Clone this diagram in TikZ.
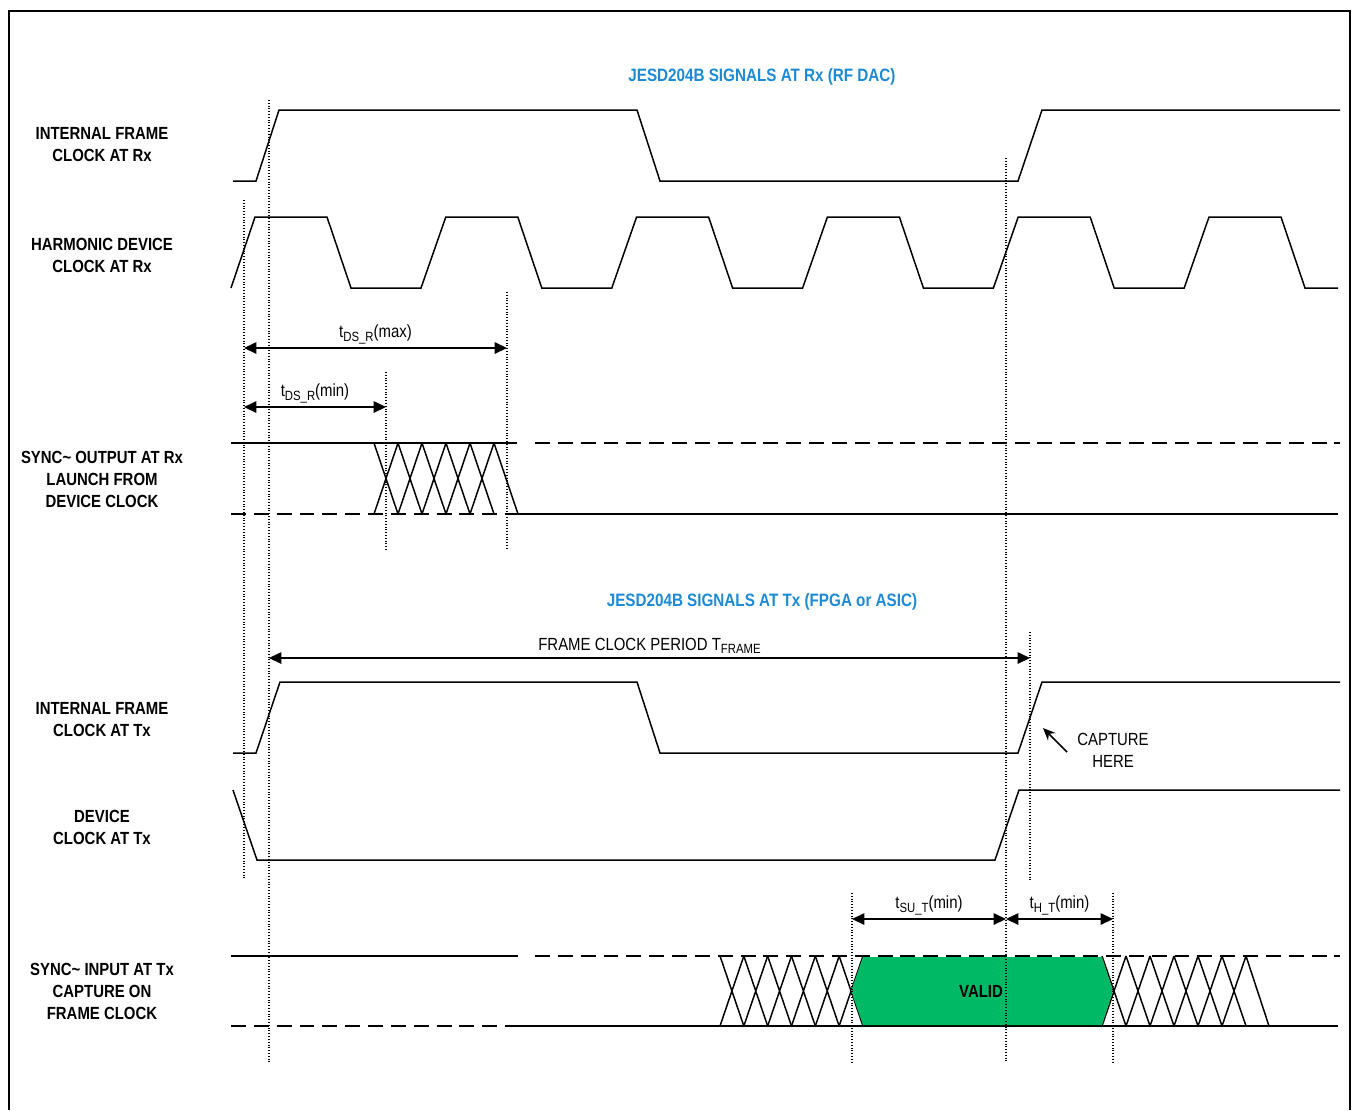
\documentclass[tikz,border=0pt]{standalone}
\usepackage{fontspec}
\setmainfont{Liberation Sans}[FakeStretch=0.85]
\usetikzlibrary{arrows.meta,positioning}
\definecolor{jesdblue}{RGB}{28,138,212}
\definecolor{validgreen}{RGB}{0,185,100}
\newcommand{\lowsub}[1]{\raisebox{-0.4ex}{\fontsize{7.6}{8}\selectfont #1}}

\tikzset{
  sig/.style={line width=0.85pt, line join=miter},
  dashsig/.style={sig, dash pattern=on 8.5pt off 4.5pt},
  guide/.style={line width=0.6pt, dash pattern=on 0.5pt off 1.1pt, black},
  dim/.style={line width=0.75pt, {Triangle[length=7pt,width=6.5pt]}-{Triangle[length=7pt,width=6.5pt]}},
  sigtitle/.style={font=\bfseries\fontsize{10}{12.5}\selectfont, align=center},
  heading/.style={font=\bfseries\fontsize{10.2}{12}\selectfont, text=jesdblue},
  dimlabel/.style={font=\fontsize{10}{12.5}\selectfont, align=center, inner sep=2pt}
}

\begin{document}
\begin{tikzpicture}[x=0.02cm,y=-0.02cm]
  \useasboundingbox (0,0) rectangle (1353,1110);
  \draw[line width=1.4pt] (9,1110) -- (9,11) -- (1350,11) -- (1350,1110);

  % headings
  \node[heading] (rxhead) at (762,77) {JESD204B SIGNALS AT Rx (RF DAC)};
  \node[heading] (txhead) at (762,602) {JESD204B SIGNALS AT Tx (FPGA or ASIC)};

  % signal names
  \node[sigtitle] (frx) at (102,145) {INTERNAL FRAME\\CLOCK AT Rx};
  \node[sigtitle] (hrx) at (102,255) {HARMONIC DEVICE\\CLOCK AT Rx};
  \node[sigtitle] (srx) at (102,479) {SYNC\textasciitilde{} OUTPUT AT Rx\\LAUNCH FROM\\DEVICE CLOCK};
  \node[sigtitle] (ftx) at (102,720) {INTERNAL FRAME\\CLOCK AT Tx};
  \node[sigtitle] (dtx) at (102,827) {DEVICE\\CLOCK AT Tx};
  \node[sigtitle] (stx) at (102,991) {SYNC\textasciitilde{} INPUT AT Tx\\CAPTURE ON\\FRAME CLOCK};

  % internal frame clock at Rx
  \draw[sig] (233,181) -- (256,181) -- (279,110) -- (637,110) -- (660,181)
    -- (1018,181) -- (1042,110) -- (1340,110);

  % harmonic device clock at Rx
  \draw[sig] (231,288) \foreach \k in {0,...,4} {
      -- ({255+190.8*\k},217) -- ({327+190.8*\k},217)
      -- ({351+190.8*\k},288) -- ({421+190.8*\k},288) }
    -- (1209,217) -- (1281,217) -- (1305,288) -- (1338,288);

  % SYNC~ output at Rx
  \draw[sig] (231,443) -- (517,443);
  \draw[dashsig] (231,514) -- (518,514);
  \draw[sig] (518,514) -- (1338,514);
  \draw[dashsig] (535,443) -- (1340,443);
  \foreach \x in {374,398,...,470}
    \draw[sig] (\x,443) -- (\x+24,514) (\x,514) -- (\x+24,443);
  \draw[sig] (494,443) -- (518,514);

  % internal frame clock at Tx
  \draw[sig] (233,753) -- (256,753) -- (280,682) -- (637,682) -- (660,753)
    -- (1018,753) -- (1042,682) -- (1340,682);

  % device clock at Tx
  \draw[sig] (233,790) -- (257,860) -- (995,860) -- (1019,790) -- (1340,790);

  % SYNC~ input at Tx
  \draw[sig] (231,956) -- (518,956);
  \draw[dashsig] (231,1026) -- (518,1026);
  \draw[sig] (518,1026) -- (1338,1026);
  \draw[dashsig] (535,956) -- (1340,956);
  \foreach \i in {0,...,5}
    \draw[sig] ({720+23.83*\i},956) -- ({743.83+23.83*\i},1026)
               ({720+23.83*\i},1026) -- ({743.83+23.83*\i},956);
  \foreach \x in {1102,1126,...,1222}
    \draw[sig] (\x,956) -- (\x+24,1026) (\x,1026) -- (\x+24,956);
  \draw[sig] (1246,956) -- (1269,1026);
  \fill[validgreen] (863,957) -- (1102,957) -- (1113,991) -- (1102,1025)
    -- (863,1025) -- (851,991) -- cycle;
  \node[font=\bfseries\fontsize{10}{12}\selectfont] (valid) at (981,991) {VALID};

  % timing markers
  \coordinate (dsa) at (244,348);
  \coordinate (dsmax) at (507,348);
  \coordinate (dsb) at (244,407);
  \coordinate (dsmin) at (386,407);
  \coordinate (fpa) at (269,658);
  \coordinate (fpb) at (1030,658);
  \coordinate (sua) at (852,919);
  \coordinate (sub) at (1006,919);
  \coordinate (hb) at (1113,919);

  \draw[dim] (dsa) -- node[above, dimlabel] {t\lowsub{DS\_R}(max)} (dsmax);
  \draw[dim] (dsb) -- node[above, dimlabel] {t\lowsub{DS\_R}(min)} (dsmin);
  \draw[dim] (fpa) -- node[above, dimlabel] {FRAME CLOCK PERIOD T\lowsub{FRAME}} (fpb);
  \draw[dim] (sua) -- node[above, dimlabel] {t\lowsub{SU\_T}(min)} (sub);
  \draw[dim] (sub) -- node[above, dimlabel] {t\lowsub{H\_T}(min)} (hb);

  % capture note
  \node[dimlabel] (cap) at (1113,750) {CAPTURE\\HERE};
  \coordinate (captip) at (1043,728);
  \coordinate (capend) at (1067,752);
  \draw[line width=0.85pt, -{Stealth[length=7pt,width=6pt]}] (capend) -- (captip);

  % dotted guides
  \foreach \x/\a/\b in {244/200/880, 269/100/1062, 386/372/550, 507/292/550,
      1006/158/1062, 1030/632/880, 852/893/1062, 1113/893/1062}
    \draw[guide] (\x,\a) -- (\x,\b);
\end{tikzpicture}
\end{document}
